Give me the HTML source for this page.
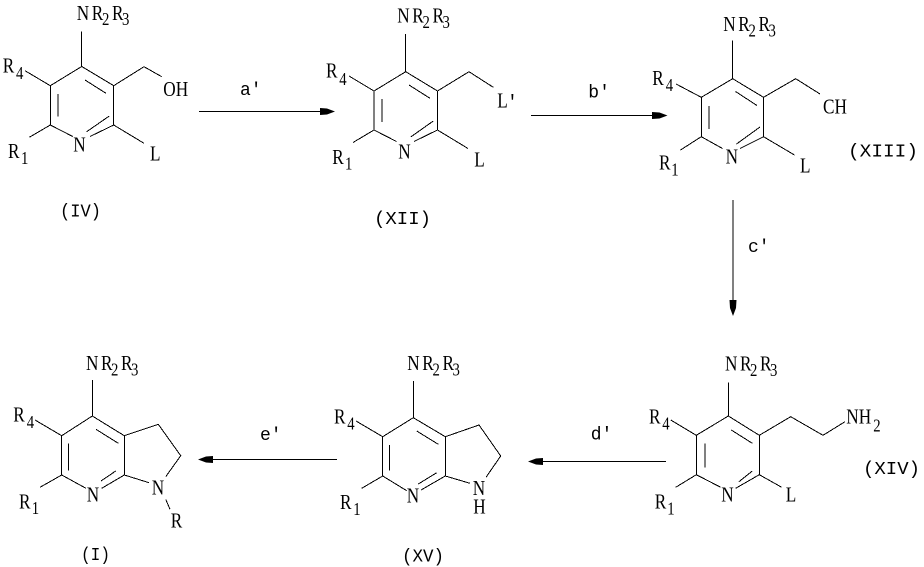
<!DOCTYPE html>
<html><head><meta charset="utf-8"><style>
html,body{margin:0;padding:0;background:#fff;width:924px;height:567px;overflow:hidden}
svg{display:block}
text{font-family:"Liberation Serif",serif;font-size:21px;fill:#000;transform-box:fill-box;transform-origin:0 0;transform:scaleX(.82)}
.m{font-family:"Liberation Mono",monospace;font-size:18px;transform:none}
.s{font-size:18px}
path{fill:none;stroke:#000;stroke-width:1;shape-rendering:crispEdges}
polygon{fill:#000}
</style></head><body>
<svg width="924" height="567" viewBox="0 0 924 567" xmlns="http://www.w3.org/2000/svg">
<!-- IV -->
<path d="M81.7 31.7V66.5L113.7 85.7V125L90 136.5M72.7 136.5L50.3 125V85.7L81.7 66.5M25 70.7L50.3 85.7M50.3 125L29.3 137.3M113.7 125L144 143.3M113.7 85.7L144 66.7L161.7 76.7M58 94V116.7M85 80L106 93.3M109.3 116L86.7 131.7"/>
<text x="76.7" y="20">N</text><text x="91.7" y="20">R</text><text class="s" x="102" y="25">2</text><text x="112" y="20">R</text><text class="s" x="122" y="25">3</text>
<text x="2.7" y="72.7">R</text><text class="s" x="16" y="79">4</text>
<text x="8" y="158">R</text><text class="s" x="21" y="164">1</text>
<text x="73.3" y="151.7">N</text><text x="150" y="160.7">L</text><text x="163.3" y="96">OH</text>
<text class="m" x="60" y="216.7" textLength="41" lengthAdjust="spacingAndGlyphs">(IV)</text>
<text class="m" x="240" y="95">a'</text>
<path d="M199 111.5H322"/><polygon points="335,111.5 327,108.5 320,108 320,115 327,114.5"/>
<!-- XII -->
<path d="M405.7 34V71.7L437.5 91V130L414 141.5M396.5 141.5L374 130V91L405.7 71.7M349 76L374 91M374 130L353 142.5M437.5 130L468 148.5M437.5 91L469 71.7L493.3 87.3M382 99V122M409 85L430 98.3M433.3 121L410.7 137"/>
<text x="397.3" y="22.7">N</text><text x="412.3" y="22.7">R</text><text class="s" x="422.5" y="28">2</text><text x="432.5" y="22.7">R</text><text class="s" x="442.5" y="28">3</text>
<text x="326" y="77.3">R</text><text class="s" x="339.3" y="85">4</text>
<text x="332.3" y="164">R</text><text class="s" x="345" y="169.5">1</text>
<text x="398.3" y="158.3">N</text><text x="474.3" y="166.7">L</text><text x="497.3" y="107.3">L</text>
<text class="m" x="507" y="107.3">'</text>
<text class="m" x="374" y="224" textLength="57" lengthAdjust="spacingAndGlyphs">(XII)</text>
<text class="m" x="588.3" y="97.7">b'</text>
<path d="M531 115.5H654"/><polygon points="667.5,115.5 659.5,112.5 652,112 652,119 659.5,118.5"/>
<!-- XIII -->
<path d="M732.7 40.7V78.7L763.5 97.3V136.7L740 148.5M722.5 148.5L701.3 136.7V97.3L732.7 78.7M676 84L701.3 97.3M701.3 136.7L680.5 150M763.5 136.7L794.5 155M763.5 97.3L795.7 78.7L820 94M709 106V129M735.5 91.5L757 105.5M760 127L736.5 144"/>
<text x="723.3" y="31">N</text><text x="738.3" y="31">R</text><text class="s" x="748.5" y="36.5">2</text><text x="758.5" y="31">R</text><text class="s" x="768.5" y="36.5">3</text>
<text x="652.3" y="85">R</text><text class="s" x="665.7" y="91">4</text>
<text x="659" y="169.3">R</text><text class="s" x="671.3" y="175.5">1</text>
<text x="725.7" y="163.3">N</text><text x="800" y="172.7">L</text><text x="823" y="113.7">CH</text>
<text class="m" x="848" y="156.7" textLength="70" lengthAdjust="spacingAndGlyphs">(XIII)</text>
<text class="m" x="748" y="252">c'</text>
<path d="M733 200V303"/><polygon points="733,316 730,308 729.5,300 736.5,300 736,308"/>
<!-- XIV -->
<path d="M728.3 382.3V416L759.3 435.3V474.7L735.7 488.3M720.7 487.3L696.3 474.7V435.3L728.3 416M670.7 420L696.3 435.3M696.3 474.7L675.7 487.3M759.3 474.7L781.7 487.3M759.3 435.3L790.7 416.7L823 435.3L845 421.7M705 443.3V467.3M731.3 430L752.3 443.3M752.3 471L739 481.7"/>
<text x="725" y="370.7">N</text><text x="740" y="370.7">R</text><text class="s" x="750" y="376">2</text><text x="760" y="370.7">R</text><text class="s" x="770" y="376">3</text>
<text x="649" y="423.3">R</text><text class="s" x="662.3" y="429.5">4</text>
<text x="654.7" y="508.3">R</text><text class="s" x="667.3" y="514.5">1</text>
<text x="721.3" y="501.7">N</text><text x="785.7" y="501.7">L</text>
<text x="846.3" y="423.3">NH</text><text class="s" x="873.3" y="431.7">2</text>
<text class="m" x="863" y="474" textLength="57" lengthAdjust="spacingAndGlyphs">(XIV)</text>
<text class="m" x="590.7" y="439.3">d'</text>
<path d="M666 461.5H541"/><polygon points="528,461.5 536,458.5 543,458 543,465 536,464.5"/>
<!-- XV -->
<path d="M413.3 381V417.7L445.3 436.7V476L421 490M406.7 490.7L382.7 476V436.7L413.3 417.7M356 421L382.7 436.7M382.7 476L361.7 488.3M445.3 476L470 483.3M445.3 436.7L479 425L500.7 456L486 477.3M389.3 445V470.7M416.7 431L438.3 444.3M436.7 472.7L418.3 484"/>
<text x="407.3" y="370">N</text><text x="422.3" y="370">R</text><text class="s" x="432.5" y="375.5">2</text><text x="442.5" y="370">R</text><text class="s" x="452.5" y="375.5">3</text>
<text x="334" y="423.3">R</text><text class="s" x="347.3" y="429.5">4</text>
<text x="340" y="509">R</text><text class="s" x="353.3" y="515">1</text>
<text x="406.7" y="502.7">N</text><text x="472.7" y="495">N</text><text x="473.3" y="513.3">H</text>
<text class="m" x="402" y="561.7" textLength="42" lengthAdjust="spacingAndGlyphs">(XV)</text>
<text class="m" x="260" y="440">e'</text>
<path d="M337 459.5H211"/><polygon points="198,459.5 206,456.5 213,456 213,463 206,462.5"/>
<!-- I -->
<path d="M92.3 380V416L124.3 435.7V475L101.7 488.3M86 488.3L61.7 475V435.7L92.3 416M35 420L61.7 435.7M61.7 475L40 487.3M124.3 475L149 482.7M124.3 435.7L158.3 424.3L180.7 455.7L165.7 476.7M165.7 499.3L170 509.3M68.3 443.3V470.7M96 429.3L118.3 443.3M115.7 471L101 481"/>
<text x="86" y="370">N</text><text x="101" y="370">R</text><text class="s" x="111" y="375.5">2</text><text x="121" y="370">R</text><text class="s" x="131" y="375.5">3</text>
<text x="13.3" y="421.7">R</text><text class="s" x="26.7" y="428">4</text>
<text x="19" y="508.3">R</text><text class="s" x="31.7" y="514">1</text>
<text x="86.7" y="501.7">N</text><text x="151.7" y="494.3">N</text><text x="170.7" y="527.7">R</text>
<text class="m" x="81" y="560" textLength="29" lengthAdjust="spacingAndGlyphs">(I)</text>
</svg>
</body></html>
